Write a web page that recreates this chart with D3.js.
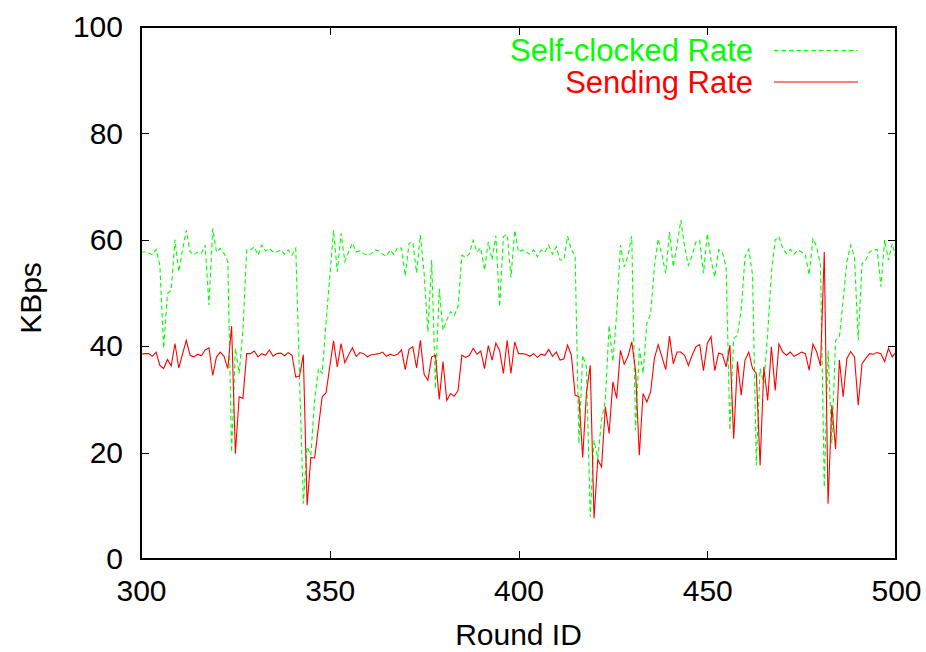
<!DOCTYPE html>
<html><head><meta charset="utf-8">
<script src="https://cdn.jsdelivr.net/npm/d3@7"></script>
<style>body{margin:0;background:#fff}</style>
</head><body>
<svg id="c" width="926" height="652"></svg>
<script>
const firstRound = 300;
const lastRound = 500;
const selfClocked = [
57.7,57.7,57.5,57.2,58.2,55.2,39.6,49.9,50.5,60.0,
54.0,58.1,61.8,57.7,57.2,57.7,57.5,59.0,47.7,62.1,
57.7,58.4,57.4,55.9,20.1,39.6,34.9,43.0,58.1,58.1,
58.7,57.1,59.0,57.9,58.4,57.7,57.7,58.1,57.3,58.1,
57.1,58.4,34.0,10.4,21.1,19.5,30.0,35.8,34.9,44.3,
53.0,61.8,54.0,61.2,55.9,57.7,59.4,57.7,57.9,57.4,
57.1,57.4,58.1,57.9,57.3,56.9,58.1,57.2,58.6,58.4,
53.2,59.3,59.6,53.8,60.9,53.7,42.7,56.2,32.0,50.8,
43.0,44.9,46.5,45.8,47.5,57.1,56.7,57.4,59.9,57.7,
58.5,54.3,59.6,56.2,60.8,47.4,60.6,61.0,52.9,61.8,
57.7,58.1,57.7,57.3,58.1,56.8,58.1,57.7,59.0,57.3,
58.7,56.2,56.2,60.7,58.1,57.1,21.7,38.3,36.1,7.9,
22.3,18.9,26.1,29.8,43.9,37.1,46.1,59.0,54.9,57.1,
60.7,24.2,39.6,34.9,44.3,46.1,54.9,60.2,57.1,53.7,
61.5,54.9,59.0,63.7,58.7,55.2,57.1,59.6,59.9,53.7,
61.2,56.2,53.0,58.1,57.7,54.9,24.2,41.4,42.1,46.8,
56.8,58.2,53.4,17.6,35.8,33.0,42.4,53.7,60.0,60.6,
58.4,57.4,58.2,57.3,58.1,57.7,57.1,53.4,60.2,58.7,
55.2,13.5,39.2,21.7,41.1,41.7,48.6,55.9,59.0,56.8,
41.1,55.5,56.2,57.7,58.1,58.2,51.2,60.0,56.2,59.3,
56.5];
const sending = [
38.5,38.6,38.6,38.1,38.9,36.4,35.8,37.5,36.3,40.5,
35.9,38.5,41.1,38.3,38.0,38.5,38.2,39.3,39.7,34.5,
38.0,38.9,38.1,35.8,43.8,19.8,30.5,30.2,38.6,38.6,
39.1,38.0,38.6,38.3,39.3,38.1,38.6,38.7,38.2,38.8,
38.3,34.2,34.4,38.4,10.1,19.1,19.0,24.8,30.5,31.2,
36.1,41.0,36.1,40.5,36.9,38.4,39.7,38.1,38.8,38.6,
38.0,38.4,38.5,38.6,38.9,38.1,38.5,38.2,38.5,39.3,
35.6,39.4,39.9,35.9,41.1,34.7,33.6,38.0,38.3,30.0,
37.1,29.8,31.1,30.6,31.7,38.3,37.9,38.3,39.6,38.5,
39.1,35.8,40.1,37.4,40.6,39.2,34.9,41.1,34.9,40.8,
38.6,38.6,38.5,38.1,38.6,37.9,38.5,38.3,39.4,38.1,
38.9,37.4,37.6,40.2,38.3,30.8,30.5,19.1,31.2,36.4,
7.6,18.7,17.3,28.6,23.6,33.3,30.2,39.2,36.6,38.1,
40.8,35.5,19.5,31.1,29.5,31.4,37.7,40.3,38.0,35.6,
41.9,36.7,38.9,38.9,38.3,36.4,38.3,39.9,40.3,35.4,
40.5,41.8,35.4,38.7,38.5,36.1,40.2,22.6,37.1,30.8,
37.4,38.9,35.8,34.9,17.6,36.1,29.8,39.9,31.7,40.4,
38.9,38.3,38.9,38.1,38.5,38.9,38.6,35.5,40.4,38.9,
36.3,57.7,10.4,28.9,20.7,37.4,30.5,37.7,39.0,38.0,
28.9,36.7,37.7,38.6,38.5,38.8,38.6,37.1,39.6,38.0,
38.9];
const xTicks = [300, 350, 400, 450, 500];
const yTicks = [0, 20, 40, 60, 80, 100];
const seriesNames = ["Self-clocked Rate", "Sending Rate"];
const seriesColors = ["#00ff00", "#ff0000"];
const xTitle = "Round ID";
const yTitle = "KBps";

const rounds = d3.range(firstRound, lastRound + 1);
const FONT = "'Liberation Sans', Arial, Helvetica, sans-serif";
const svg = d3.select("#c");
const L = 141, R = 896, T = 27, B = 559;
const x = d3.scaleLinear().domain([firstRound, lastRound]).range([L, R]);
const y = d3.scaleLinear().domain([0, 100]).range([B, T]);

function styleAxis(g, showText) {
  g.select(".domain").remove();
  g.selectAll(".tick line").attr("stroke", "#000").attr("stroke-width", 1).attr("shape-rendering", "crispEdges");
  g.selectAll(".tick text").attr("font-family", FONT).attr("font-size", 30).attr("fill", "#000");
  if (!showText) g.selectAll(".tick text").remove();
}
svg.append("g").attr("transform", `translate(${L},0)`)
  .call(d3.axisLeft(y).tickValues(yTicks).tickSizeInner(-8).tickSizeOuter(0).tickPadding(18))
  .call(g => styleAxis(g, true));
svg.append("g").attr("transform", `translate(${R},0)`)
  .call(d3.axisRight(y).tickValues(yTicks).tickSizeInner(-8).tickSizeOuter(0))
  .call(g => styleAxis(g, false));
svg.append("g").attr("transform", `translate(0,${B})`)
  .call(d3.axisBottom(x).tickValues(xTicks).tickSizeInner(-8).tickSizeOuter(0).tickPadding(21))
  .call(g => styleAxis(g, true));
svg.append("g").attr("transform", `translate(0,${T})`)
  .call(d3.axisTop(x).tickValues(xTicks).tickSizeInner(-8).tickSizeOuter(0))
  .call(g => styleAxis(g, false));

const series = [selfClocked, sending];
const dashes = ["4.5,3", null];
series.forEach((vals, i) => {
  const line = d3.line().x((d, j) => x(rounds[j])).y(d => y(d));
  svg.append("path").datum(vals)
    .attr("d", line)
    .attr("fill", "none")
    .attr("stroke", seriesColors[i])
    .attr("stroke-width", 1.1)
    .attr("stroke-dasharray", dashes[i]);
});

svg.append("rect").attr("x", L).attr("y", T).attr("width", R - L).attr("height", B - T)
  .attr("fill", "none").attr("stroke", "#000").attr("stroke-width", 1.3).attr("shape-rendering", "crispEdges");

// legend
const legY = [61, 93];
const legLineY = [50.5, 82];
seriesNames.forEach((name, i) => {
  svg.append("text").attr("x", 753).attr("y", legY[i]).attr("text-anchor", "end")
    .attr("font-family", FONT).attr("font-size", 31).attr("fill", seriesColors[i]).text(name);
  svg.append("line").attr("x1", 774).attr("x2", 858).attr("y1", legLineY[i]).attr("y2", legLineY[i])
    .attr("stroke", seriesColors[i]).attr("stroke-width", 1.1).attr("stroke-dasharray", dashes[i]);
});

svg.append("text").attr("x", (L + R) / 2).attr("y", 645).attr("text-anchor", "middle")
  .attr("font-family", FONT).attr("font-size", 30).attr("fill", "#000").text(xTitle);
svg.append("text").attr("transform", "translate(41,298) rotate(-90)").attr("text-anchor", "middle")
  .attr("font-family", FONT).attr("font-size", 30).attr("fill", "#000").text(yTitle);
</script>
</body></html>
